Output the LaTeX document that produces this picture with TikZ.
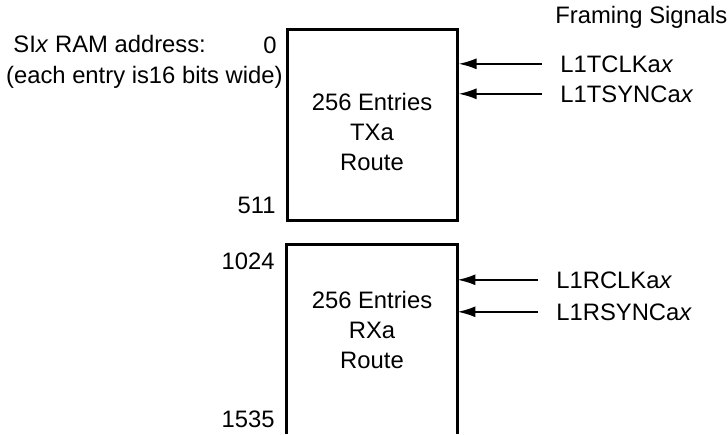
\documentclass[tikz,border=0pt]{standalone}
\usepackage{fontspec}
\setmainfont{Liberation Sans}
\usetikzlibrary{arrows.meta}
\tikzset{
  txt/.style={inner sep=0pt,font=\fontsize{11.9pt}{15pt}\selectfont},
  regbox/.style={minimum width=85pt,inner sep=0pt},
  boxline/.style={line width=1.5pt},
  sig/.style={line width=1pt,-{Latex[length=9pt,width=5.5pt]},shorten <=9pt}
}
\begin{document}
\begin{tikzpicture}[x=0.5pt,y=-0.5pt]
\useasboundingbox (0,0) rectangle (728,434);
% memory blocks
\node[regbox,draw,boxline,minimum height=95.5pt] (tbox) at (372,124.5) {};
\node[regbox,minimum height=94.5pt] (rbox) at (372,339.5) {};
\draw[boxline] (rbox.south west) -- (rbox.north west) -- (rbox.north east) -- (rbox.south east);
\node[txt,align=center] (ttext) at (372,131.5) {256 Entries\\TXa\\Route};
\node[txt,align=center] (rtext) at (372,329.5) {256 Entries\\RXa\\Route};
% addresses
\node[txt,anchor=base west] (title) at (13,52) {SI\textit{x} RAM address:};
\node[txt,anchor=base east] (width) at (283,83) {(each entry is16 bits wide)};
\node[txt,anchor=base east] (a0) at (277,53) {0};
\node[txt,anchor=base east] (a511) at (276,213) {511};
\node[txt,anchor=base east] (a1024) at (275,269) {1024};
\node[txt,anchor=base east] (a1535) at (275,427) {1535};
% framing signals
\node[txt,anchor=base west] (fs) at (555,23) {Framing Signals};
\node[txt,anchor=base west] (tclk) at (560,72) {L1TCLKa\textit{x}};
\node[txt,anchor=base west] (tsync) at (560,102) {L1TSYNCa\textit{x}};
\node[txt,anchor=base west] (rclk) at (556,288) {L1RCLKa\textit{x}};
\node[txt,anchor=base west] (rsync) at (556,320) {L1RSYNCa\textit{x}};
\draw[sig] (tclk.west) -- (tclk.west -| tbox.east);
\draw[sig] (tsync.west) -- (tsync.west -| tbox.east);
\draw[sig] (rclk.west) -- (rclk.west -| rbox.east);
\draw[sig] (rsync.west) -- (rsync.west -| rbox.east);
\end{tikzpicture}
\end{document}
